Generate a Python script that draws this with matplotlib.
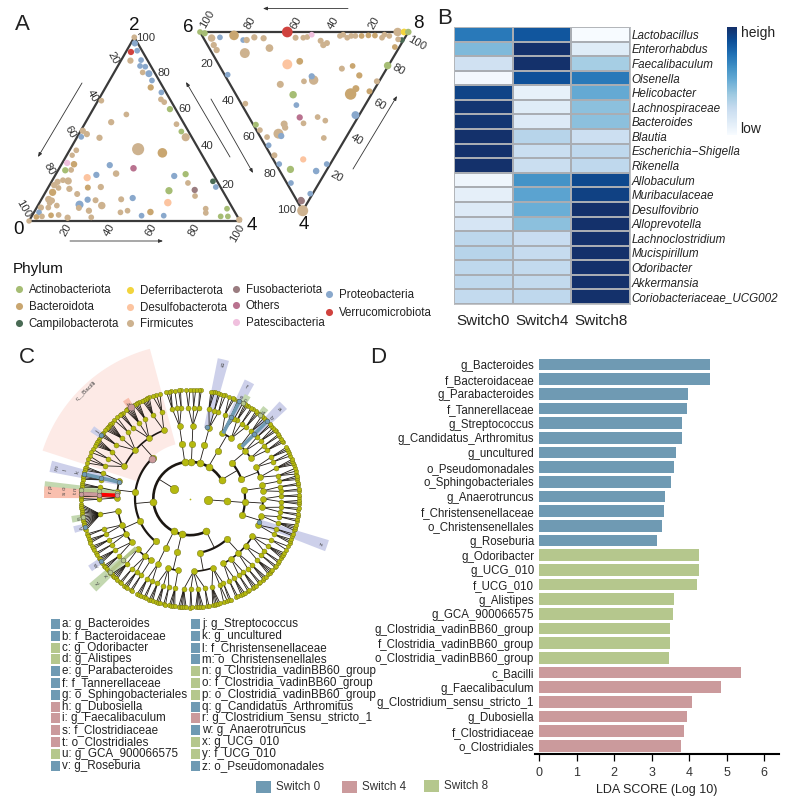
import numpy as np
import matplotlib
matplotlib.use('Agg')
import matplotlib.pyplot as plt
from matplotlib.colors import LinearSegmentedColormap
from matplotlib.patches import Polygon, Rectangle

plt.rcParams['font.family'] = ['Liberation Sans', 'DejaVu Sans']

W, H = 793, 805

# ---- panel A: shares (%)
t1_share2 = [100, 96.7, 92.7, 92, 87.3, 87.6, 84.4, 84, 80.9, 80.2,
             76.5, 72.7, 70, 66.2, 64.7, 60.9, 65.5, 58, 53.8, 52.7,
             48.7, 45.6, 49.1, 47.3, 45.8, 45.3, 38.5, 39.1, 37.1, 35.8,
             31.6, 30.9, 27.8, 27.6, 30.4, 28.7, 25.8, 25.1, 23.6, 24.5,
             25.5, 20.7, 21.6, 18.5, 21.8, 22.2, 21.3, 19.5, 18, 17.5,
             15.6, 18.2, 18.5, 14.7, 16.5, 16.9, 13.6, 12.5, 11.6, 11.3,
             11.8, 10, 11.8, 11.1, 9.8, 8.4, 7.3, 8.9, 7.1, 8.4,
             7.3, 4.7, 5.6, 4.7, 5.6, 4.9, 2.9, 2.9, 6.7, 4.4,
             6.7, 2.5, 2.5, 3.1, 3.3, 1.8, 2.5, 2.2, 0, 2, 0.7]
t1_share4 = [0, 1.9, 5, 2.4, 4.5, 9.4, 10.5, 13.2, 13.5, 16.8,
             20.1, 21.4, 27.8, 29.5, 31.8, 36.4, 1.6, 17.2, 12.1, 43.6,
             47.9, 51.5, 1, 3.8, 1.9, 10.8, 3.2, 32.2, 44.7, 2.6,
             2.3, 5.9, 6.1, 3.4, 23.1, 35.2, 28.4, 19.4, 15.8, 56.6,
             61.5, 65, 76.4, 79.3, 7.7, 5, 2.9, 2.2, 5, 10.4,
             3.4, 18.8, 24.8, 15.5, 58.1, 70.1, 71.9, 42.9, 22, 25.9,
             37.8, 60.8, 3.4, 5.3, 4.9, 9, 2, 19.5, 20.1, 30.3,
             5.5, 2.4, 25.6, 41, 43.9, 55.1, 51.9, 62.4, 80.4, 81.6,
             90.5, 89.6, 93, 8.9, 12.4, 17.4, 4.9, 2.4, 0, 28.5, 99.3]
t1_phylum = list("FPPVFPPPFPPBPFFAFFFFAFFFPFFFBFTBFAPOFPDPAFCPFFFFFF"
                 "BBFFAUFPPFFDFFFFFPFFFPFFFBPPFFAAABFFFBFFF")
t1_abund = [1, 1.2, 1, 1.2, 1.2, 1, 1, 1, 1, 1.5,
            1, 1.2, 1, 1, 1, 1.2, 1, 1, 1.2, 1,
            1, 2, 1.2, 1.2, 1, 1.2, 1, 4.5, 2.8, 0.9,
            1.2, 1.3, 1, 1.2, 1.2, 1.3, 1.3, 1.2, 1.6, 1.2,
            1.2, 1, 1, 1, 1.6, 1, 1.2, 1.2, 1, 1.2,
            1.6, 1.1, 1.2, 1.1, 1.6, 1.2, 1, 1.2, 1.2, 1.1,
            1.1, 1.7, 1.5, 1.2, 1, 1, 1.2, 2, 1.1, 1.7,
            1, 1, 1.2, 1, 1, 1.3, 1, 1, 1, 1,
            1, 1, 1, 1, 1, 1.2, 1, 1, 0.9, 1, 1.2]

t2_share4 = [0, 0.7, 3.4, 3, 7.3, 10.1, 1.9, 4.5, 4.5, 3,
             3.5, 11.8, 9, 0, 3.2, 3.2, 2.8, 1.5, 4.9, 7.3,
             6.2, 2.2, 1.5, 3.2, 2.2, 2.2, 2.2, 1.9, 2, 3.2,
             1.5, 2.2, 0, 0, 0, 4.5, 4.1, 8.4, 18.8, 27.6,
             33.2, 24.3, 19, 20.5, 16.4, 18.1, 23.9, 26.9, 24.8, 27.6,
             29.3, 35.1, 34.7, 31.7, 46.5, 40.9, 40.1, 47.8, 47.6, 49.6,
             51.1, 51.9, 54.9, 51.5, 53.5, 56.9, 58.2, 58.8, 59.3, 63.4,
             69, 71.3, 73.9, 76.9, 73.9, 77.8, 84.5, 90.5, 94, 94.5, 100]
t2_share8 = [0, 1.9, 3.9, 8.1, 3, 3, 15.4, 18.5, 20.2, 24.6,
             28.8, 15.7, 28.9, 41.9, 44.3, 48, 50.1, 52.9, 55.5, 55.6,
             57.9, 66.1, 68, 69.1, 71.5, 73.5, 76.5, 79.9, 83, 85.8,
             87.8, 89.8, 94.9, 98, 100, 94.7, 93.1, 89.4, 80.8, 71.3,
             65, 64.5, 63.9, 58, 39.8, 33, 1.5, 41.3, 41.4, 36.3,
             24.1, 27.4, 55.2, 59.2, 51.7, 26.1, 2, 24.3, 33, 35.7,
             24.5, 1.2, 1.7, 15, 14.5, 9.6, 10.3, 3.2, 30.2, 1.7,
             1.7, 14.4, 1.6, 5.5, 24.4, 17.4, 2, 8.3, 2.1, 2.1, 0]
t2_phylum = list("AAFPFFBPFFFFFVFFFTFFFFFFFFBBBFFFFEACFBAF"
                 "BBBFBDPFPFFABBPPFOFFFAFFFFPFFPFDPAPPPPUUF")
t2_abund = [1, 1.2, 1.7, 1, 1.2, 1.2, 2.8, 1, 1.2, 1.2,
            1.2, 3, 1.8, 3.5, 1.1, 1, 1, 1, 1.1, 1.2,
            1.1, 1, 1, 1, 1, 1, 1, 1, 1, 1,
            1, 1, 2.2, 1.4, 1.3, 1, 1, 1, 1.7, 1.1,
            1.1, 1.2, 1, 1.1, 1.4, 3, 1, 2.7, 1.2, 1,
            1.5, 1.7, 4, 1.5, 1.9, 1, 1, 1.2, 1, 1,
            1, 1.1, 1, 1.5, 1.2, 3, 1.2, 1, 1, 1,
            1.1, 1.2, 1, 1.6, 1, 1.3, 1, 1, 1.2, 1.5, 3.7]

phylum_codes = ['A', 'B', 'C', 'E', 'D', 'F', 'U', 'O', 'T', 'P', 'V']
phylum_names = ['Actinobacteriota', 'Bacteroidota', 'Campilobacterota',
                'Deferribacterota', 'Desulfobacterota', 'Firmicutes',
                'Fusobacteriota', 'Others', 'Patescibacteria',
                'Proteobacteria', 'Verrucomicrobiota']
phylum_colors = ['#a6bd74', '#c9a670', '#4a6b55', '#f2d43d', '#fcc4a0', '#cdb28f',
                 '#9a7c80', '#b9728f', '#f0c0de', '#89a8cc', '#d0423e']
phylum_legend_x = [18.7, 18.7, 18.7, 130, 130, 130, 235.7, 235.7, 235.7, 328.7, 328.7]
phylum_legend_y = [289, 306, 323, 290, 307, 323, 289, 305, 322, 294, 312.5]

# ---- panel B
genera = ['Lactobacillus', 'Enterorhabdus', 'Faecalibaculum', 'Olsenella', 'Helicobacter',
          'Lachnospiraceae', 'Bacteroides', 'Blautia', 'Escherichia\u2212Shigella', 'Rikenella',
          'Allobaculum', 'Muribaculaceae', 'Desulfovibrio', 'Alloprevotella', 'Lachnoclostridium',
          'Mucispirillum', 'Odoribacter', 'Akkermansia', 'Coriobacteriaceae_UCG002']
switches = ['Switch0', 'Switch4', 'Switch8']
heat_s0 = [.72, .45, .2, .02, .92, .98, .98, 1, 1, 1, .05, .09, .13, .17, .28, .3, .27, .27, .26]
heat_s4 = [.85, 1, 1, .87, .08, .12, .13, .3, .23, .23, .62, .55, .5, .42, .24, .25, .26, .26, .27]
heat_s8 = [0, .12, .35, .72, .52, .42, .42, .22, .27, .27, .9, .93, 1, 1, 1, 1, 1, 1, 1]

# ---- panel C: cladogram, leaf angles in degrees, nested kingdom > phylum > class > order > family > genus
clade_a = [[[[13, 14.5, 16], [18, 19, 20, 21]], [[23, 24.5], [26, 27, 28]]],
           [[[31, 32, 33], [35, 36]], [[38, 39, 40.5], [42, 43]], [[45], [46, 47.5, 49]]]]
clade_b = [[[[51, 52, 53], [55, 56], [58, 59, 60]], [[61], [63, 64], [66, 67, 69]]]]
clade_c1 = [[[[71, 72.5], [74, 75], [77, 78, 79]]]]
clade_c2 = [[[[84, 85], [87, 88.5], [90, 92]]]]
clade_c3 = [[[[95, 96], [98], [100, 101, 102.5]]]]
clade_d = [[[[106, 108, 110], [112, 113, 114, 115, 116]],
            [[118, 119, 120, 121], [122, 123, 124, 125, 126], [128, 129, 130]],
            [[132, 134], [136, 137, 138, 139, 140, 141], [143, 144, 145]],
            [[147, 148, 149, 150, 151], [153, 155], [157, 159, 161]]],
           [[[163, 164, 165], [166, 167, 168, 169, 170]],
            [[172, 173, 174], [175, 176, 177]], [[178, 179], [180, 181]]],
           [[[183, 184, 185, 186, 187, 188, 189, 190, 191, 192, 193, 194, 195, 196, 197]],
            [[199, 200], [202, 203, 204]], [[206, 207, 208], [210, 211]],
            [[213, 214, 215, 216], [218, 219, 220]]],
           [[[222, 223], [224, 225, 226, 227, 228]], [[230, 231], [233, 234, 235]], [[237, 238]]]]
clade_e1 = [[[[241, 242, 243], [245, 246]]]]
clade_e2 = [[[[248, 249, 250], [252, 253, 254], [256, 257]], [[259, 260, 261, 262]]]]
clade_f = [[[[264, 265, 266, 267, 268], [270, 271], [273, 274, 275, 276, 277], [279, 280]],
            [[282, 283, 284, 285, 286], [288, 290], [291, 292]]],
           [[[295, 296], [298, 299, 300]], [[302, 303], [305, 306, 307]],
            [[309, 310], [312, 313, 314]], [[316, 317, 318, 319], [321, 322]],
            [[324, 325], [327, 328, 329, 330], [332, 334]]]]
clade_r = [[[[336, 337, 338], [340, 341]], [[343, 344, 345, 346], [348, 349]]],
           [[[351, 352], [354, 355]], [[357, 358, 359], [361, 362]]],
           [[[364, 365], [367, 368]], [[370, 371, 372]]]]
clade_left = [clade_a, clade_b, clade_c1, clade_c2, clade_c3, clade_d, clade_e1, clade_e2, clade_f]
clade_right = [clade_r]

# label, angle, outer ring band (px), half width, colour
strip_labels = ['g', 'f', 'a', 'c', 'd', 'm', 'p', 'r', 'u', 'v', 'w', 'j', 'h', 'y', 'z']
strip_angle = [76.5, 63, 45, 60.7, 50, 167, 175.5, 177.5, 190, 195, 215, 144.6, 123, 222.5, -19]
strip_inner = [72, 90, 91, 109, 109, 73, 73, 73, 109, 109, 109, 109, 109, 91, 72]
strip_outer = [143, 131, 132, 118, 118, 143, 146, 146, 120, 120, 122, 120, 118, 132, 145]
strip_kind = ['lav', 'lav', 'lav', 'grn', 'grn', 'lav', 'grn', 'sal', 'grn', 'lav', 'lav', 'lav', 'sal', 'grn', 'lav']
extra_labels = ['e', 'b', 'l', 'k', 'o', 'n', 's', 't', 'x']
extra_angle = [63, 45, 167, 167, 175.5, 175.5, 177.5, 177.5, 222.5]
extra_radius = [113, 114, 128, 115, 126, 115, 126, 115, 115]
hit_angle = [63, 63, 45, 45, 76.6, 60.7, 50, 144.6, 123, 134, 167, 167, 167, 175.5, 175.5, 175.5,
             177.5, 177.5, 177.5, 190, 195, 215, 222.5, 222.5, -19]
hit_level = [5, 6, 5, 6, 4, 6, 6, 6, 6, 3, 4, 5, 6, 4, 5, 6, 4, 5, 6, 6, 6, 6, 5, 6, 4]
hit_kind = ['t', 't', 't', 't', 't', 'g', 'g', 't', 'p', 'p', 't', 't', 't', 'g', 'g', 'g',
            'p', 'p', 'p', 'g', 't', 't', 'g', 'g', 't']

legend_left = ['a: g_Bacteroides', 'b: f_Bacteroidaceae', 'c: g_Odoribacter', 'd: g_Alistipes',
               'e: g_Parabacteroides', 'f: f_Tannerellaceae', 'g: o_Sphingobacteriales',
               'h: g_Dubosiella', 'i: g_Faecalibaculum', 's: f_Clostridiaceae', 't: o_Clostridiales',
               'u: g_GCA_900066575', 'v: g_Roseburia']
legend_left_kind = list('ttggttt') + list('ppppgt')
legend_right = ['j: g_Streptococcus', 'k: g_uncultured', 'l: f_Christensenellaceae',
                'm: o_Christensenellales', 'n: g_Clostridia_vadinBB60_group',
                'o: f_Clostridia_vadinBB60_group', 'p: o_Clostridia_vadinBB60_group',
                'q: g_Candidatus_Arthromitus', 'r: g_Clostridium_sensu_stricto_1',
                'w: g_Anaerotruncus', 'x: g_UCG_010', 'y: f_UCG_010', 'z: o_Pseudomonadales']
legend_right_kind = list('ttttgggtptggt')
legend_rows = [624, 636, 648, 659, 671, 683, 695, 707, 718, 730, 742, 754, 766]

# ---- panel D
taxa = ['g_Bacteroides', 'f_Bacteroidaceae', 'g_Parabacteroides', 'f_Tannerellaceae', 'g_Streptococcus',
        'g_Candidatus_Arthromitus', 'g_uncultured', 'o_Pseudomonadales', 'o_Sphingobacteriales',
        'g_Anaerotruncus', 'f_Christensenellaceae', 'o_Christensenellales', 'g_Roseburia',
        'g_Odoribacter', 'g_UCG_010', 'f_UCG_010', 'g_Alistipes', 'g_GCA_900066575',
        'g_Clostridia_vadinBB60_group', 'f_Clostridia_vadinBB60_group', 'o_Clostridia_vadinBB60_group',
        'c_Bacilli', 'g_Faecalibaculum', 'g_Clostridium_sensu_stricto_1', 'g_Dubosiella',
        'f_Clostridiaceae', 'o_Clostridiales']
lda = [4.55, 4.55, 3.96, 3.94, 3.8, 3.8, 3.66, 3.6, 3.53, 3.36, 3.33, 3.29, 3.15,
       4.27, 4.26, 4.22, 3.59, 3.56, 3.5, 3.5, 3.47,
       5.39, 4.84, 4.07, 3.95, 3.86, 3.79]
lda_group = [0] * 13 + [2] * 8 + [1] * 6
group_colors = ['#6f9ab3', '#cb9a9c', '#b5c78d']
group_names = ['Switch 0', 'Switch 4', 'Switch 8']

kind_colors = {'t': group_colors[0], 'p': group_colors[1], 'g': group_colors[2]}
strip_colors = {'lav': '#cdd0ea', 'grn': '#c3d8b0', 'sal': '#f9bfae'}


def px_axes(x0, y0, x1, y1):
    return fig.add_axes([x0 / W, 1 - y1 / H, (x1 - x0) / W, (y1 - y0) / H])


fig = plt.figure(figsize=(W / 100, H / 100), dpi=100)
canvas = fig.add_axes([0, 0, 1, 1])
canvas.set_xlim(0, W)
canvas.set_ylim(H, 0)
canvas.axis('off')

for letter, x, y in zip('ABCD', [22, 445, 27, 378], [24, 19, 357, 357]):
    canvas.text(x, y, letter, fontsize=16, ha='center', va='center', color='#222222')


# ---- A: ternaries
def ternary(corner_a, corner_b, corner_c, share_b, share_c, codes, abund):
    # corner_a takes what is left of 100
    sb = np.array(share_b) / 100
    sc = np.array(share_c) / 100
    sa = 1 - sb - sc
    xs = sa * corner_a[0] + sb * corner_b[0] + sc * corner_c[0]
    ys = sa * corner_a[1] + sb * corner_b[1] + sc * corner_c[1]
    cols = [phylum_colors[phylum_codes.index(c)] for c in codes]
    canvas.plot([corner_a[0], corner_b[0], corner_c[0], corner_a[0]],
                [corner_a[1], corner_b[1], corner_c[1], corner_a[1]],
                color='#3a3a3a', lw=1.6, zorder=2, solid_joinstyle='miter')
    canvas.scatter(xs, ys, s=17 * np.array(abund), c=cols, linewidths=0, zorder=3)


ternary((29, 221), (134.3, 37.3), (240, 221), t1_share2, t1_share4, t1_phylum, t1_abund)
ternary((200, 32), (302.7, 210.7), (408.3, 32), t2_share4, t2_share8, t2_phylum, t2_abund)

tick_style = dict(fontsize=8.2, ha='center', va='center', color='#333333')
for txt, x, y in zip(['20', '40', '60', '80', '100'], [113, 92, 70, 49, 23], [58, 96, 132, 169, 209]):
    canvas.text(x, y, txt, rotation=-60, **tick_style)
for txt, x, y in zip(['20', '40', '60', '80', '100'], [66, 109, 151, 194, 237], [230, 230, 230, 230, 233]):
    canvas.text(x, y, txt, rotation=60, **tick_style)
for txt, x, y in zip(['100', '80', '60', '40', '20'], [146, 164, 185, 207, 228], [38, 73, 109, 146, 185]):
    canvas.text(x, y, txt, **tick_style)
for txt, x, y in zip(['100', '80', '60', '40', '20'], [207, 250, 296, 333, 374], [19, 23, 23, 23, 23]):
    canvas.text(x, y, txt, rotation=60, **tick_style)
for txt, x, y in zip(['20', '40', '60', '80', '100'], [207, 228, 249, 270, 287], [64, 101, 137, 174, 210]):
    canvas.text(x, y, txt, **tick_style)
for txt, x, y in zip(['20', '40', '60', '80', '100'], [336, 357, 379, 399, 417], [177, 140, 105, 70, 43]):
    canvas.text(x, y, txt, rotation=-30, **tick_style)

for txt, x, y in zip('204684', [134, 19, 252, 188, 418, 304], [25, 229, 225, 27, 23, 224]):
    canvas.text(x, y, txt, fontsize=13.5, ha='center', va='center', color='#111111')

arrow_from = [(82, 83), (230, 157), (70, 241), (348, 8.5), (211, 99), (353, 169)]
arrow_to = [(38, 157), (186, 82), (163, 241), (263, 8.5), (253, 173), (397, 96)]
for p0, p1 in zip(arrow_from, arrow_to):
    canvas.annotate('', xy=p1, xytext=p0, xycoords='data', textcoords='data',
                    arrowprops=dict(arrowstyle='-|>,head_length=0.25,head_width=0.1',
                                    color='#333333', lw=0.6, shrinkA=0, shrinkB=0))

canvas.text(13, 269, 'Phylum', fontsize=11, va='center', color='#111111')
for name, col, x, y in zip(phylum_names, phylum_colors, phylum_legend_x, phylum_legend_y):
    canvas.scatter([x], [y], s=26, c=col, linewidths=0)
    canvas.text(x + 10, y + 0.5, name, fontsize=8.3, va='center', color='#222222')

# ---- B: heatmap
blues = LinearSegmentedColormap.from_list(
    'heat', ['#f7fbff', '#deebf7', '#c6dbef', '#9ecae1', '#6baed6', '#4292c6', '#2171b5', '#0d4f98', '#14316b'])
heat = np.array([heat_s0, heat_s4, heat_s8]).T
ax_b = px_axes(454, 27, 630, 304)
ax_b.pcolormesh(heat, cmap=blues, vmin=0, vmax=1, edgecolors='#a9adb3', linewidth=0.35)
ax_b.set_ylim(len(genera), 0)
ax_b.set_xlim(0, 3)
ax_b.set_yticks(np.arange(len(genera)) + 0.5, genera, fontsize=8.4, style='italic')
ax_b.yaxis.tick_right()
ax_b.set_xticks(np.arange(3) + 0.5, switches, fontsize=11)
ax_b.tick_params(length=0, pad=1.2, colors='#222222')
ax_b.tick_params(axis='x', pad=7.5)
for s in ax_b.spines.values():
    s.set_color('#b5b8bc')
    s.set_linewidth(0.6)

ax_cb = px_axes(727, 27, 737, 135)
ax_cb.imshow(np.linspace(1, 0, 100)[:, None], cmap=blues, aspect='auto')
ax_cb.axis('off')
canvas.text(741, 33, 'heigh', fontsize=10, va='center', color='#222222')
canvas.text(740, 129, 'low', fontsize=10, va='center', color='#222222')

# ---- C: cladogram
cx, cy = 190, 498.5
radii = [0, 18.3, 36.7, 55, 73, 91, 109]
node_d = [2, 8.5, 7, 6.5, 6, 5, 4.3]


def polar(r, ang):
    a = np.radians(ang)
    return cx + r * np.cos(a), cy - r * np.sin(a)


def sector(ang0, ang1, r0, r1, color, zorder=1):
    angs = np.linspace(ang0, ang1, 30)
    outer = [polar(r1, a) for a in angs]
    inner = [polar(r0, a) for a in angs[::-1]]
    canvas.add_patch(Polygon(outer + inner, closed=True, facecolor=color, edgecolor='none', zorder=zorder))


node_xy = {lvl: [] for lvl in range(7)}


def draw_clade(node, level):
    if not isinstance(node, list):
        node_xy[level].append(polar(radii[level], node))
        return node
    kids = [draw_clade(k, level + 1) for k in node]
    ang = float(np.mean(kids))
    node_xy[level].append(polar(radii[level], ang))
    if level == 0:
        # the root is not joined to its two children
        return ang
    if level + 1 <= 4:
        arc = np.linspace(min(kids), max(kids), 40)
        pts = np.array([polar(radii[level + 1], a) for a in arc])
        canvas.plot(pts[:, 0], pts[:, 1], color='#1c1712', lw=[0, 0, 1.9, 1.6, 1.2][level + 1], zorder=2,
                    solid_capstyle='round')
        spoke = np.array([polar(radii[level], ang), polar(radii[level + 1], ang)])
        canvas.plot(spoke[:, 0], spoke[:, 1], color='#1c1712', lw=0.6, zorder=2)
    else:
        for k in kids:
            seg = np.array([polar(radii[level], ang), polar(radii[level + 1], k)])
            canvas.plot(seg[:, 0], seg[:, 1], color='#1c1712', lw=0.6, zorder=2)
    return ang


sector(105, 162, 56, 155, '#fdeae6')
canvas.text(*polar(150, 134), 'c__Bacilli', fontsize=4.5, rotation=44, ha='center', va='center', color='#444444')

for lab, ang, r0, r1, kind in zip(strip_labels, strip_angle, strip_inner, strip_outer, strip_kind):
    half = 2.3 if r1 > 125 else 1.6
    sector(ang - half, ang + half, r0, r1, strip_colors[kind])
    rot = ang - 90 if 0 <= ang <= 180 else ang + 90
    canvas.text(*polar(r1 - 6, ang), lab, fontsize=4.5, rotation=rot, ha='center', va='center', color='#444444', zorder=5)
for lab, ang, r in zip(extra_labels, extra_angle, extra_radius):
    rot = ang - 90 if 0 <= ang <= 180 else ang + 90
    canvas.text(*polar(r, ang), lab, fontsize=4.5, rotation=rot, ha='center', va='center', color='#444444', zorder=5)

draw_clade([clade_left, clade_right], 0)

for lvl in range(1, 7):
    pts = np.array(node_xy[lvl])
    canvas.scatter(pts[:, 0], pts[:, 1], s=(node_d[lvl] * 0.72) ** 2, c='#b5b90f', edgecolors='#6b6b10',
                   linewidths=0.3, zorder=3)
canvas.scatter([cx], [cy], s=1.5, c='#b5b90f', linewidths=0, zorder=3)

for ang, lvl, kind in zip(hit_angle, hit_level, hit_kind):
    x, y = polar(radii[lvl], ang)
    size = 7 if (ang, lvl) in [(123, 6), (134, 3)] else 4.8
    canvas.scatter([x], [y], s=(size * 0.72) ** 2, c=kind_colors[kind], edgecolors='#444444',
                   linewidths=0.3, zorder=6)
    if lvl >= 5:
        p0 = polar(radii[lvl - 1], ang)
        band = 'red' if ang == 177.5 and lvl == 5 else kind_colors[kind]
        if (ang, lvl) not in [(60.7, 6), (50, 6), (144.6, 6), (123, 6), (190, 6), (195, 6), (215, 6)]:
            canvas.plot([p0[0], x], [p0[1], y], color=band, lw=2.6, zorder=5, solid_capstyle='butt')

for kinds, labels, sq, tx in [(legend_left_kind, legend_left, 51, 61.7), (legend_right_kind, legend_right, 191, 202)]:
    for kind, lab, y in zip(kinds, labels, legend_rows):
        canvas.add_patch(Rectangle((sq, y - 4.7), 9.3, 9.3, facecolor=kind_colors[kind], edgecolor='none'))
        canvas.text(tx, y, lab, fontsize=8.4, va='center', color='#222222')

for name, col, x, y in zip(group_names, group_colors, [256, 341.5, 424], [781, 781, 779.5]):
    canvas.add_patch(Rectangle((x, y), 15, 12, facecolor=col, edgecolor='none'))
    canvas.text(x + 20, y + 6, name, fontsize=8.4, va='center', color='#333333')

# ---- D: LDA bars
ax_d = px_axes(535, 352, 779, 754)
ax_d.set_facecolor('none')
ax_d.barh(np.arange(len(taxa)), lda, height=0.79, color=[group_colors[g] for g in lda_group])
ax_d.set_xlim(-0.107, 6.4)
ax_d.set_ylim(26.55, -0.85)
ax_d.set_yticks(np.arange(len(taxa)), taxa, fontsize=8.3, color='#222222')
ax_d.tick_params(axis='y', length=0, pad=0.5)
ax_d.set_xticks(range(7))
ax_d.tick_params(axis='x', labelsize=9, length=5, width=0.9, pad=4, labelcolor='#333333')
ax_d.set_xlabel('LDA SCORE (Log 10)', fontsize=9, labelpad=4, color='#222222')
for side in ['top', 'right', 'left']:
    ax_d.spines[side].set_visible(False)
ax_d.spines['bottom'].set_linewidth(1.5)

fig.savefig('out.png', dpi=100)
